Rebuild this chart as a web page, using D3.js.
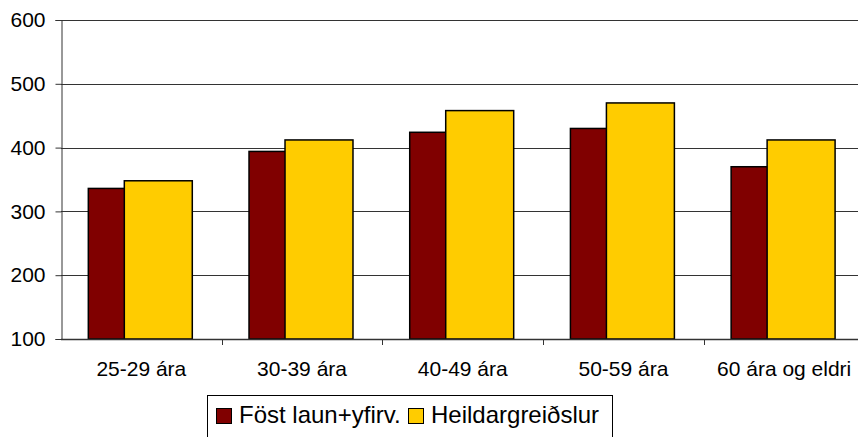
<!DOCTYPE html>
<html>
<head>
<meta charset="utf-8">
<script src="https://cdn.jsdelivr.net/npm/d3@7"></script>
<style>
  body { margin: 0; background: #fff; }
  svg { display: block; font-family: "Liberation Sans", Arial, sans-serif; }
</style>
</head>
<body>
<svg id="chart"></svg>
<script>
const categories = ['25-29 ára', '30-39 ára', '40-49 ára', '50-59 ára', '60 ára og eldri'];
const seriesNames = ['Föst laun+yfirv.', 'Heildargreiðslur'];
const fostLaun = [336, 394, 424, 430, 370];
const heildar = [348, 412, 458, 470, 412];
const yTicks = [100, 200, 300, 400, 500, 600];
const colors = ['#800000', '#ffcc00'];

const width = 858;
const height = 437;
const margin = { top: 20, left: 61, bottom: 339 };

const svg = d3.select('#chart')
  .attr('width', width)
  .attr('height', height);

const x = d3.scaleBand()
  .domain(categories)
  .range([margin.left, margin.left + 160.7 * categories.length])
  .padding(0);

const y = d3.scaleLinear()
  .domain([100, 600])
  .range([margin.bottom, margin.top]);

// offset of each series' bar inside a category band
const barOffset = d3.scaleOrdinal()
  .domain(seriesNames)
  .range([0.17, 0.394]);
const barWidth = x.bandwidth() * 0.423;

// gridlines
svg.append('g')
  .selectAll('line')
  .data(yTicks.slice(1))
  .enter()
  .append('line')
  .attr('x1', margin.left)
  .attr('x2', width)
  .attr('y1', d => Math.round(y(d)) + 0.5)
  .attr('y2', d => Math.round(y(d)) + 0.5)
  .attr('stroke', '#333')
  .attr('stroke-width', 1);

// bars
const series = [fostLaun, heildar];
series.forEach((vals, s) => {
  svg.append('g')
    .selectAll('rect')
    .data(vals)
    .enter()
    .append('rect')
    .attr('x', (d, i) => x(categories[i]) + x.bandwidth() * barOffset(seriesNames[s]))
    .attr('y', d => y(d))
    .attr('width', barWidth)
    .attr('height', d => y(100) - y(d))
    .attr('fill', colors[s])
    .attr('stroke', '#000')
    .attr('stroke-width', 1.5);
});

// y axis
const yAxis = d3.axisLeft(y)
  .tickValues(yTicks)
  .tickSize(6)
  .tickPadding(10)
  .tickFormat(d3.format('d'));
const gy = svg.append('g')
  .attr('transform', `translate(${margin.left + 0.5},0)`)
  .call(yAxis);
gy.select('.domain').attr('stroke', '#333');
gy.selectAll('.tick line').attr('stroke', '#333');
gy.selectAll('.tick text')
  .attr('font-size', 21)
  .attr('font-family', '"Liberation Sans", Arial, sans-serif')
  .attr('fill', '#000');

// x axis: ticks between categories
const xAxisLine = svg.append('g');
xAxisLine.append('line')
  .attr('x1', margin.left)
  .attr('x2', width)
  .attr('y1', y(100) + 0.5)
  .attr('y2', y(100) + 0.5)
  .attr('stroke', '#333')
  .attr('stroke-width', 1.5);
xAxisLine.selectAll('.xt')
  .data(categories.slice(1))
  .enter()
  .append('line')
  .attr('class', 'xt')
  .attr('x1', d => Math.round(x(d)) + 0.5)
  .attr('x2', d => Math.round(x(d)) + 0.5)
  .attr('y1', y(100))
  .attr('y2', y(100) + 6)
  .attr('stroke', '#333');
xAxisLine.selectAll('text')
  .data(categories)
  .enter()
  .append('text')
  .attr('x', d => x(d) + x.bandwidth() / 2)
  .attr('y', 376)
  .attr('text-anchor', 'middle')
  .attr('font-size', 21)
  .attr('fill', '#000')
  .text(d => d);

// legend
const legend = svg.append('g');
legend.append('rect')
  .attr('x', 207.5)
  .attr('y', 395.5)
  .attr('width', 405)
  .attr('height', 60)
  .attr('fill', '#fff')
  .attr('stroke', '#000')
  .attr('stroke-width', 1);
const legendX = [216.5, 408.5];
const items = legend.selectAll('.item')
  .data(seriesNames)
  .enter()
  .append('g')
  .attr('class', 'item')
  .attr('transform', (d, i) => `translate(${legendX[i]},0)`);
items.append('rect')
  .attr('x', 0)
  .attr('y', 408.5)
  .attr('width', 15)
  .attr('height', 15)
  .attr('fill', (d, i) => colors[i])
  .attr('stroke', '#000')
  .attr('stroke-width', 1);
items.append('text')
  .attr('x', 22.5)
  .attr('y', 423)
  .attr('font-size', 24)
  .attr('fill', '#000')
  .text(d => d);
</script>
</body>
</html>
